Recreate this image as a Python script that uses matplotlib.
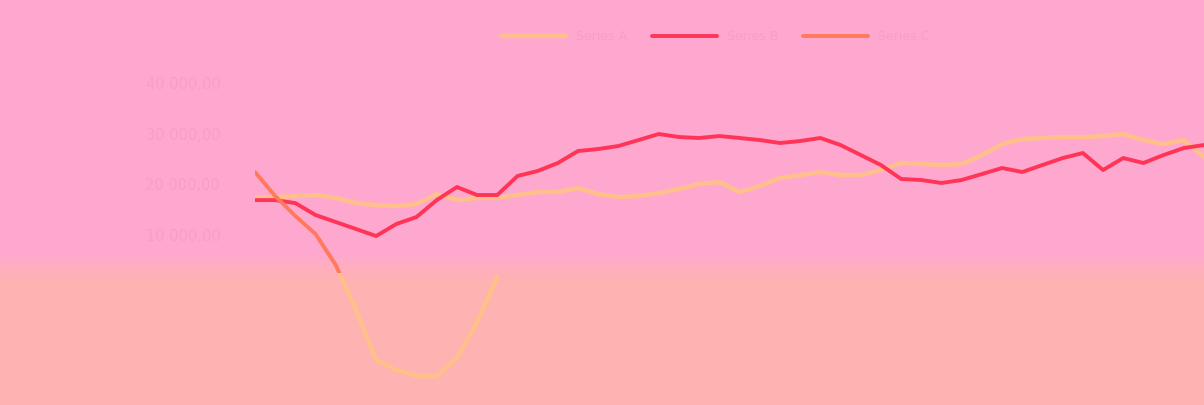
import numpy as np
import matplotlib
matplotlib.use("Agg")
import matplotlib.pyplot as plt
from matplotlib.patches import Rectangle
from matplotlib.colors import LinearSegmentedColormap

# series values, one point per period
series_names = ["Series A", "Series B", "Series C"]
series_a = [17310, 17510, 17700, 17900, 17310, 16320, 15930, 15730, 16130, 18100,
            16920, 17310, 17310, 17900, 18500, 18500, 19290, 18100, 17510, 17700,
            18300, 19090, 20080, 20470, 18500, 19680, 21260, 21860, 22450, 21860,
            21860, 22840, 24230, 24030, 23830, 24030, 25810, 27980, 28970, 29170,
            29360, 29360, 29560, 29960, 28770, 27980, 28770, 25410]
series_b = [16900, 16900, 16300, 13950, 12570, 11190, 9800, 12170, 13560, 16900,
            19480, 17900, 17900, 21660, 22650, 24230, 26600, 26990, 27590, 28770,
            29960, 29360, 29170, 29560, 29170, 28770, 28180, 28570, 29170, 27780,
            25810, 23830, 21070, 20870, 20280, 20870, 22050, 23240, 22450, 23830,
            25210, 26200, 22840, 25210, 24230, 25810, 27190, 27780]
series_c = [22450, 17700, 13750, 10200, 4070, -4820, -14700, -16680, -17860, -17860,
            -14300, -7190, 1700]
yticks = [10000, 20000, 30000, 40000]
ytick_labels = ["10 000,00", "20 000,00", "30 000,00", "40 000,00"]

pink = "#FFA8CF"
salmon = "#FFB2B2"
col_a = "#FFC08C"
col_b = "#FF3457"
col_c = "#FF7A5C"
faint = "#F7A0C6"

W, H = 1204, 405
fig = plt.figure(figsize=(W / 100, H / 100), dpi=100, facecolor=pink)

# background: pink top, fading to salmon lower down
bg = fig.add_axes([0, 0, 1, 1], zorder=0)
bg.axis("off")
grad = np.zeros((H, 1))
rows = np.arange(H)
grad[:, 0] = np.clip((rows - 252) / 28, 0, 1)
cmap = LinearSegmentedColormap.from_list("bg", [pink, salmon])
bg.imshow(grad, aspect="auto", cmap=cmap, extent=[0, 1, 1, 0], vmin=0, vmax=1)
bg.set_xlim(0, 1)
bg.set_ylim(1, 0)

ax = fig.add_axes([255 / W, 0, (W - 255) / W, 1], zorder=1)
ax.patch.set_alpha(0)
for s in ax.spines.values():
    s.set_visible(False)

x_a = np.arange(len(series_a))
x_b = np.arange(len(series_b))
x_c = np.arange(len(series_c))

ax.plot(x_a, series_a, color=col_a, lw=3.2, solid_capstyle="round", label=series_names[0])
ax.plot(x_b, series_b, color=col_b, lw=2.8, solid_capstyle="round", label=series_names[1])
ax.plot(x_c, series_c, color=col_c, lw=2.8, solid_capstyle="round", label=series_names[2])
# lower part of the third line looks lighter over the salmon band
low, = ax.plot(x_c, series_c, color=col_a, lw=3.4, solid_capstyle="round")
clip = Rectangle((-1, -40000), 60, 40000 + 2500, transform=ax.transData)
low.set_clip_path(clip)

ax.set_xlim(0, 47)
ax.set_ylim(-23590, 56440)
ax.set_xticks([])
ax.set_yticks(yticks)
ax.set_yticklabels(ytick_labels)
ax.tick_params(axis="y", length=0, pad=25, labelsize=10.5, labelcolor=faint)

leg = fig.legend(loc="upper center", bbox_to_anchor=(0.594, 0.953), ncol=3,
                 frameon=False, fontsize=9, handlelength=5.2, columnspacing=2.0,
                 handletextpad=0.8, labelcolor=faint)

fig.savefig("out.png", dpi=100, facecolor=pink)
